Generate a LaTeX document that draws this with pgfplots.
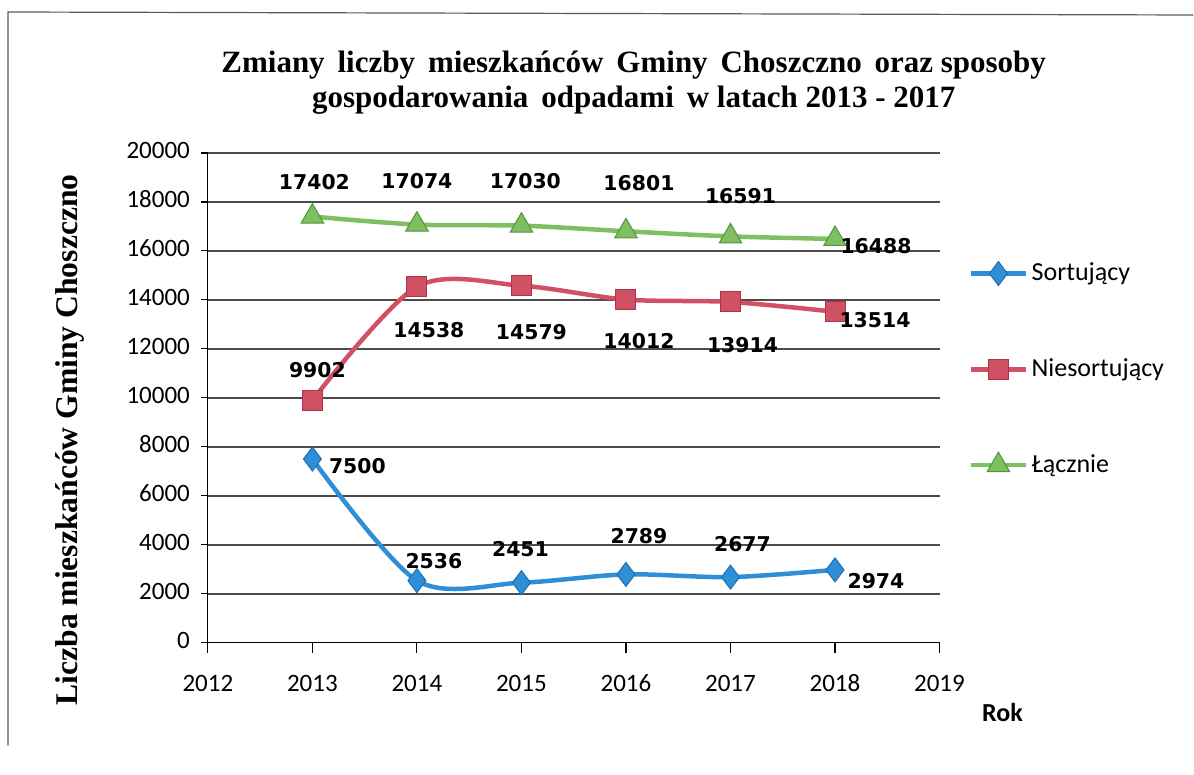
\documentclass[border=0pt]{standalone}
\usepackage{fontspec}
\setmainfont{Liberation Serif}
\newfontfamily\carlito{Carlito}
\newfontfamily\dejavu{DejaVu Sans}
\usepackage{pgfplots}
\usepackage{pgfplotstable}
\pgfplotsset{compat=1.18}

\definecolor{blueL}{RGB}{47,143,214}
\definecolor{blueE}{RGB}{30,110,180}
\definecolor{redL}{RGB}{208,80,100}
\definecolor{redE}{RGB}{175,50,70}
\definecolor{greenL}{RGB}{128,190,98}
\definecolor{greenE}{RGB}{80,150,60}

\pgfplotstableread{
x y dx dy
2013 7500 22.5 -3.5
2014 2536 8.5 10
2015 2451 -0.5 17
2016 2789 6.5 19
2017 2677 6 16.5
2018 2974 20.5 -5.5
}\sortt

\pgfplotstableread{
x y dx dy
2013 9902 2.5 15
2014 14538 6 -21.5
2015 14579 5 -23
2016 14012 6.5 -21
2017 13914 6 -21.5
2018 13514 20 -4
}\niesort

\pgfplotstableread{
x y dx dy
2013 17402 1 17
2014 17074 0 22
2015 17030 2 22.5
2016 16801 6.5 24
2017 16591 5 20
2018 16488 20.5 -3.5
}\lacznie

\pgfplotsset{lbl/.style={
  nodes near coords,
  visualization depends on={\thisrow{dx}\as\lblx},
  visualization depends on={\thisrow{dy}\as\lbly},
  every node near coord/.append style={anchor=center, xshift=\lblx bp, yshift=\lbly bp,
    font=\dejavu\bfseries\fontsize{10.2bp}{12bp}\selectfont, text=black},
}}

\begin{document}
\begin{tikzpicture}
\path (0,0) rectangle (597bp,-387.5bp);
\draw[gray!70!black, line width=0.6bp] (4bp,-373bp) -- (4bp,-6bp) -- (597bp,-7.5bp);
\begin{axis}[
  at={(104bp,-321.5bp)}, anchor=south west,
  scale only axis, width=366bp, height=245bp,
  xmin=2012, xmax=2019, ymin=0, ymax=20000,
  xtick={2012,...,2019}, ytick={0,2000,...,20000},
  scaled ticks=false,
  /pgf/number format/1000 sep={},
  /pgf/number format/assume math mode=true,
  axis x line*=bottom, axis y line*=left,
  axis line style={-, black, line width=0.6bp},
  tick align=outside,
  major tick length=3.5bp,
  xtick style={black, line width=0.6bp, /pgfplots/major tick length=5bp},
  ytick style={black, line width=0.6bp},
  ymajorgrids,
  major grid style={gray!60!black, line width=0.8bp},
  tick label style={font=\carlito\fontsize{12.5bp}{14bp}\selectfont},
  typeset ticklabels with strut,
  xticklabel style={yshift=-7.5bp},
  yticklabel style={xshift=-2bp},
  title={Zmiany\, liczby\, mieszkańców\, Gminy\, Choszczno\, oraz sposoby\\gospodarowania\, odpadami\, w latach 2013 - 2017},
  title style={at={(axis description cs:0.582,1.053)}, anchor=south, align=center, inner sep=0pt,
    font=\bfseries\fontsize{15.5bp}{17.5bp}\selectfont},
  ylabel={Liczba mieszkańców Gminy Choszczno},
  every axis y label/.style={at={(axis description cs:-0.1885,0.414)}, rotate=90, anchor=center,
    font=\bfseries\fontsize{15.8bp}{17bp}\selectfont},
  xlabel={Rok},
  every axis x label/.style={at={(axis description cs:1.086,-0.143)}, anchor=center,
    font=\carlito\bfseries\fontsize{13bp}{15bp}\selectfont},
  legend style={at={(axis description cs:1.04,0.784)}, anchor=north west, draw=none, fill=none,
    inner sep=0pt, row sep=33.5bp, font=\carlito\fontsize{13bp}{15bp}\selectfont},
  legend cell align=left,
  legend image code/.code={\draw[mark repeat=2,mark phase=2,#1] plot coordinates {(0bp,0bp) (13.5bp,0bp) (27bp,0bp)};},
  clip=false,
]
\addplot[smooth, blueL, line width=2.25bp, mark=diamond*, mark size=6bp,
  mark options={solid, line width=0.5bp, draw=blueE, fill=blueL}, lbl] table[x=x,y=y] {\sortt};
\addlegendentry{Sortujący}
\addplot[smooth, redL, line width=2.25bp, mark=square*, mark size=5bp,
  mark options={solid, line width=0.5bp, draw=redE, fill=redL}, lbl] table[x=x,y=y] {\niesort};
\addlegendentry{Niesortujący}
\addplot[smooth, greenL, line width=2.25bp, mark=triangle*, mark size=6.5bp,
  mark options={solid, line width=0.5bp, draw=greenE, fill=greenL}, lbl] table[x=x,y=y] {\lacznie};
\addlegendentry{Łącznie}
\end{axis}
\end{tikzpicture}
\end{document}
